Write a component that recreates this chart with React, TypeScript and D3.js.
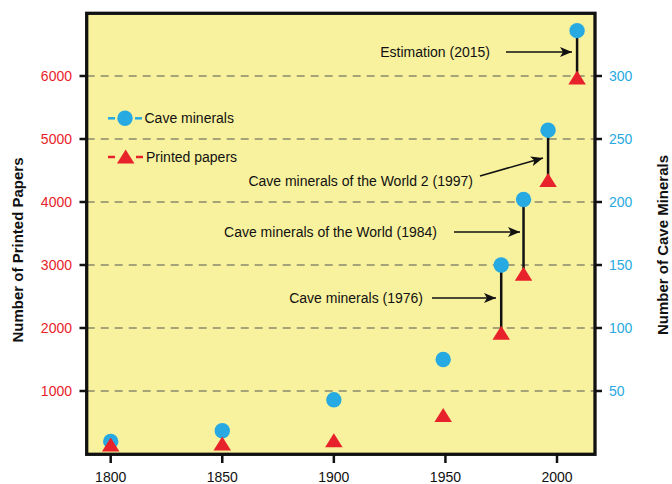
import React from "react";
import * as d3 from "d3";

// Data (years as placed on the chart)
const years = [1800, 1850, 1900, 1949, 1975, 1985, 1996, 2009];
const caveMinerals = [10, 18.5, 43, 75, 150, 202, 257, 336];
const printedPapers = [150, 165, 220, 620, 1925, 2860, 4350, 5975];
const stemIndex = [4, 5, 6, 7];
const xTicks = [1800, 1850, 1900, 1950, 2000];
const leftTicks = [1000, 2000, 3000, 4000, 5000, 6000];
const rightTicks = [50, 100, 150, 200, 250, 300];
const annotations = [
  { label: "Cave minerals (1976)", idx: 4 },
  { label: "Cave minerals of the World (1984)", idx: 5 },
  { label: "Cave minerals of the World 2 (1997)", idx: 6 },
  { label: "Estimation (2015)", idx: 7 },
];

const BLUE = "#27a9e1";
const RED = "#e8222a";
const YELLOW = "#f8f29e";
const FONT = "'Liberation Sans', Arial, Helvetica, sans-serif";

export default function App() {
  const W = 672, H = 484;
  const fx0 = 86.7, fx1 = 595, fy0 = 13.3, fy1 = 454.3;
  const x = d3.scaleLinear().domain([1800, 2000]).range([110.7, 557]);
  const yL = d3.scaleLinear().domain([0, 7000]).range([454, 13]);
  const yR = d3.scaleLinear().domain([0, 350]).range([454, 13]);

  const tri = (cx: number, cy: number, w = 17.5, h = 14) =>
    `M${cx},${cy - h / 2}L${cx + w / 2},${cy + h / 2}L${cx - w / 2},${cy + h / 2}Z`;

  // annotation geometry (text anchor end, arrow start/end)
  const ann = [
    { tx: 423, ty: 298, ax0: 432, ay0: 298, ax1: 496, ay1: 298 },
    { tx: 437, ty: 232, ax0: 454, ay0: 232, ax1: 520, ay1: 232 },
    { tx: 473, ty: 181, ax0: 480, ay0: 176, ax1: 543, ay1: 158 },
    { tx: 490, ty: 52, ax0: 506, ay0: 52, ax1: 572, ay1: 52 },
  ];

  return (
    <svg width={W} height={H} style={{ position: "absolute", left: 0, top: 0, background: "#fff" }}>
      <defs>
        <marker id="ah" viewBox="0 0 12 10" refX="12" refY="5" markerWidth="12" markerHeight="10" markerUnits="userSpaceOnUse" orient="auto">
          <path d="M0,0L12,5L0,10L3,5Z" fill="#111" />
        </marker>
      </defs>
      <rect x={fx0} y={fy0} width={fx1 - fx0} height={fy1 - fy0} fill={YELLOW} />
      {/* gridlines */}
      {leftTicks.map((t) => (
        <line key={"g" + t} x1={fx0} x2={fx1} y1={yL(t)} y2={yL(t)} stroke="#555" strokeWidth={1.2} strokeDasharray="8,6" />
      ))}
      {/* left ticks + labels */}
      {leftTicks.map((t) => (
        <g key={"l" + t}>
          <line x1={79.5} x2={fx0} y1={yL(t)} y2={yL(t)} stroke="#111" strokeWidth={2.5} />
          <text x={72} y={yL(t)} dy="0.35em" textAnchor="end" fill={RED} fontFamily={FONT} fontSize={14}>{t}</text>
        </g>
      ))}
      {rightTicks.map((t) => (
        <g key={"r" + t}>
          <line x1={fx1} x2={602} y1={yR(t)} y2={yR(t)} stroke="#111" strokeWidth={2.5} />
          <text x={609} y={yR(t)} dy="0.35em" textAnchor="start" fill={BLUE} fontFamily={FONT} fontSize={14}>{t}</text>
        </g>
      ))}
      {xTicks.map((t) => (
        <g key={"x" + t}>
          <line x1={x(t)} x2={x(t)} y1={fy1} y2={463} stroke="#111" strokeWidth={2.5} />
          <text x={x(t)} y={482} textAnchor="middle" fill="#111" fontFamily={FONT} fontSize={14}>{t}</text>
        </g>
      ))}
      {/* frame */}
      <rect x={fx0} y={fy0} width={fx1 - fx0} height={fy1 - fy0} fill="none" stroke="#111" strokeWidth={3.3} />
      {/* axis titles */}
      <text transform={`translate(23,250) rotate(-90)`} textAnchor="middle" fontFamily={FONT} fontWeight="bold" fontSize={15} fill="#111">Number of Printed Papers</text>
      <text transform={`translate(668,245) rotate(-90)`} textAnchor="middle" fontFamily={FONT} fontWeight="bold" fontSize={15} fill="#111">Number of Cave Minerals</text>
      {/* stems */}
      {stemIndex.map((i) => (
        <line key={"s" + i} x1={x(years[i])} x2={x(years[i])} y1={yR(caveMinerals[i])} y2={yL(printedPapers[i])} stroke="#111" strokeWidth={2.5} />
      ))}
      {/* circles */}
      {years.map((yr, i) => (
        <circle key={"c" + i} cx={x(yr)} cy={yR(caveMinerals[i])} r={7.7} fill={BLUE} />
      ))}
      {/* triangles */}
      {years.map((yr, i) => (
        <path key={"t" + i} d={tri(x(yr), yL(printedPapers[i]))} fill={RED} />
      ))}
      {/* annotations */}
      {annotations.map((a, k) => (
        <g key={"a" + k}>
          <text x={ann[k].tx} y={ann[k].ty} dy="0.35em" textAnchor="end" fontFamily={FONT} fontSize={14} fill="#111">{a.label}</text>
          <line x1={ann[k].ax0} y1={ann[k].ay0} x2={ann[k].ax1} y2={ann[k].ay1} stroke="#111" strokeWidth={1.6} markerEnd="url(#ah)" />
        </g>
      ))}
      {/* legend */}
      <g>
        <line x1={108} x2={115} y1={118.3} y2={118.3} stroke={BLUE} strokeWidth={2.5} />
        <line x1={135} x2={142} y1={118.3} y2={118.3} stroke={BLUE} strokeWidth={2.5} />
        <circle cx={125} cy={118.3} r={7.7} fill={BLUE} />
        <text x={144.5} y={118.3} dy="0.35em" fontFamily={FONT} fontSize={14} fill="#111">Cave minerals</text>
        <line x1={108} x2={115} y1={157} y2={157} stroke={RED} strokeWidth={2.5} />
        <line x1={136} x2={143} y1={157} y2={157} stroke={RED} strokeWidth={2.5} />
        <path d={tri(125.7, 156.5)} fill={RED} />
        <text x={146} y={157} dy="0.35em" fontFamily={FONT} fontSize={14} fill="#111">Printed papers</text>
      </g>
    </svg>
  );
}
